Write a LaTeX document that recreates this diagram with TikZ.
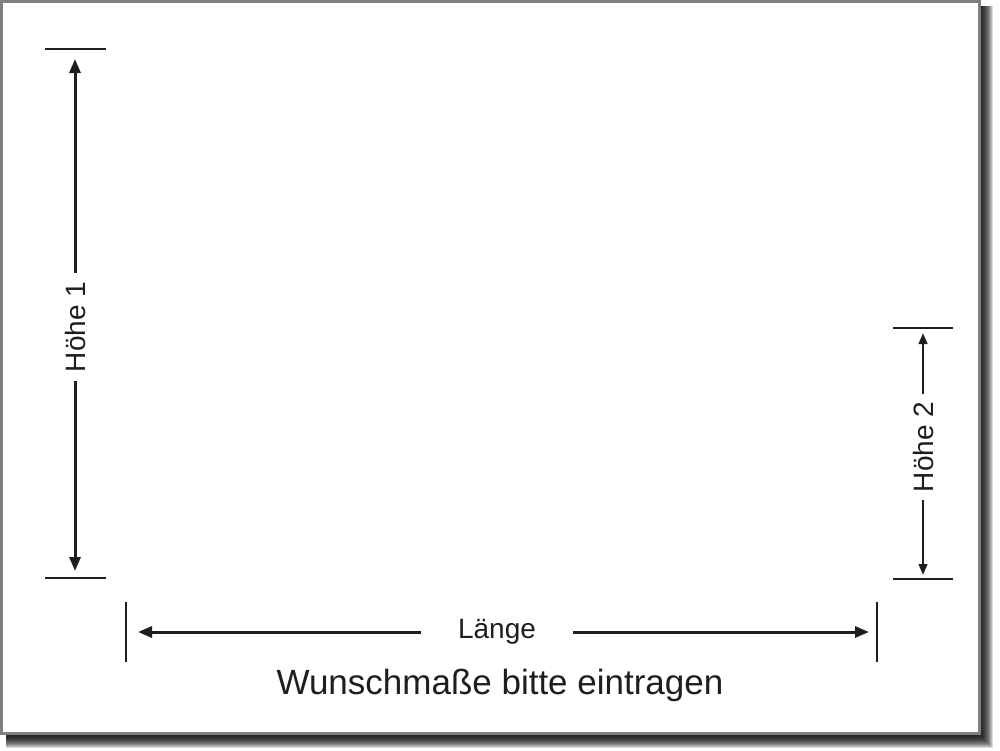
\documentclass[tikz,border=0pt]{standalone}
\usepackage{fontspec}
\setmainfont{Liberation Sans}
\usetikzlibrary{arrows.meta}
\definecolor{ink}{HTML}{1E1E1E}
\definecolor{frame}{HTML}{808080}
\tikzset{
  tickline/.style={draw=ink, line width=1.3pt},
  dimline/.style={draw=ink, line width=3pt, -{Triangle[length=14pt,width=11pt]}},
  dimlinesmall/.style={draw=ink, line width=2.6pt, -{Triangle[length=11pt,width=8.5pt]}},
  dimlabel/.style={text=ink, font=\fontsize{28}{30}\selectfont, inner sep=0pt},
}
\begin{document}
\begin{tikzpicture}[x=1pt,y=-1pt]
\useasboundingbox (0,0) rectangle (1000,750);
% shadow
\foreach \k in {1,...,12}{
  \fill[black,opacity=0.14] (6,6) rectangle (981+\k,736+\k);
}
% page
\fill[white] (0,0) rectangle (981,735);
\draw[frame, line width=3pt] (1.5,1.5) rectangle (979.5,733.5);

% Höhe 1
\coordinate (h1a) at (45,49);  \coordinate (h1b) at (106,49);
\coordinate (h1c) at (45,578); \coordinate (h1d) at (106,578);
\draw[tickline] (h1a) -- (h1b);
\draw[tickline] (h1c) -- (h1d);
\coordinate (h1top) at (75,59);
\coordinate (h1bot) at (75,571);
\node[dimlabel, rotate=90, inner xsep=9pt] (h1) at (75,327) {Höhe 1};
\draw[dimline] (h1.east) -- (h1top);
\draw[dimline] (h1.west) -- (h1bot);

% Höhe 2
\coordinate (h2a) at (893,328); \coordinate (h2b) at (953,328);
\coordinate (h2c) at (893,579); \coordinate (h2d) at (953,579);
\draw[tickline] (h2a) -- (h2b);
\draw[tickline] (h2c) -- (h2d);
\coordinate (h2top) at (923,333);
\coordinate (h2bot) at (923,575);
\node[dimlabel, rotate=90, inner xsep=8pt] (h2) at (923,447) {Höhe 2};
\draw[dimlinesmall] (h2.east) -- (h2top);
\draw[dimlinesmall] (h2.west) -- (h2bot);

% Länge
\coordinate (la) at (126,602); \coordinate (lb) at (126,662);
\coordinate (lc) at (877,602); \coordinate (ld) at (877,662);
\draw[tickline] (la) -- (lb);
\draw[tickline] (lc) -- (ld);
\coordinate (lleft) at (138,632);
\coordinate (lright) at (869,632);
\node[dimlabel, inner xsep=37pt, anchor=center] (len) at (497,632) {Länge};
\draw[dimline] (len.west) -- (lleft);
\draw[dimline] (len.east) -- (lright);

% caption
\node[text=ink, font=\fontsize{35}{37}\selectfont, inner sep=0pt] (cap) at (500,685) {Wunschmaße bitte eintragen};
\end{tikzpicture}
\end{document}
